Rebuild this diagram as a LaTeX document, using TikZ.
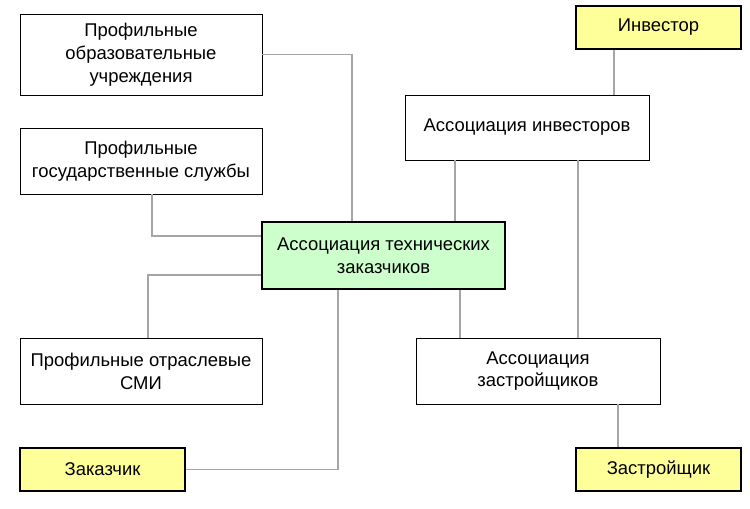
\documentclass[tikz,border=0pt]{standalone}
\usepackage{fontspec}
\setmainfont{Liberation Sans}
\usetikzlibrary{positioning, calc}
\definecolor{assocgreen}{RGB}{204, 255, 204}
\definecolor{partyyellow}{RGB}{255, 255, 153}
\definecolor{linkgray}{RGB}{165, 165, 165}
\tikzset{
    box/.style={draw, fill=white, align=center, font=\fontsize{10.5}{13}\selectfont, inner sep=2pt},
    widebox/.style={box, minimum width=4.84cm, minimum height=1.32cm},
    party/.style={box, draw, line width=1.5pt, fill=partyyellow, minimum width=3.3cm, minimum height=0.86cm},
    link/.style={linkgray, line width=0.8pt}
}
\begin{document}
\begin{tikzpicture}[x=0.02cm, y=-0.02cm]
    \useasboundingbox (0,0) rectangle (750,508);
    % Left column
    \node[widebox, minimum height=1.62cm] (schools) at (141,54.5) {Профильные\\образовательные\\учреждения};
    \node[widebox] (services) at (141,161) {Профильные\\государственные службы};
    \node[widebox] (media) at (141,371) {Профильные отраслевые\\СМИ};
    \node[party] (customer) at (102.5,469.5) {Заказчик};
    % Centre
    \node[widebox, minimum width=4.86cm, minimum height=1.34cm, line width=1.5pt, fill=assocgreen] (tech) at (383.5,255.5) {Ассоциация технических\\заказчиков};
    % Right column
    \node[party] (investor) at (658.5,27.5) {Инвестор};
    \node[widebox, minimum width=4.88cm, minimum height=1.3cm] (investors) at (527,127.5) {Ассоциация инвесторов};
    \node[widebox, minimum width=4.88cm, minimum height=1.32cm] (builders) at (538,371) {Ассоциация\\застройщиков};
    \node[party] (builder) at (658.5,469.5) {Застройщик};

    % Links
    \draw[link] (schools.east) -| (tech.north -| 352,0);
    \draw[link] (services.south -| 152,0) |- (tech.west |- 0,236);
    \draw[link] (tech.west |- 0,275) -| (media.north -| 148,0);
    \draw[link] (tech.south -| 338,0) |- (customer.east);
    \draw[link] (investors.south -| 455,0) -- (tech.north -| 455,0);
    \draw[link] (investors.south -| 578,0) -- (builders.north -| 578,0);
    \draw[link] (tech.south -| 460,0) -- (builders.north -| 460,0);
    \draw[link] (investor.south -| 614,0) -- (investors.north -| 614,0);
    \draw[link] (builders.south -| 618,0) -- (builder.north -| 618,0);
\end{tikzpicture}
\end{document}
